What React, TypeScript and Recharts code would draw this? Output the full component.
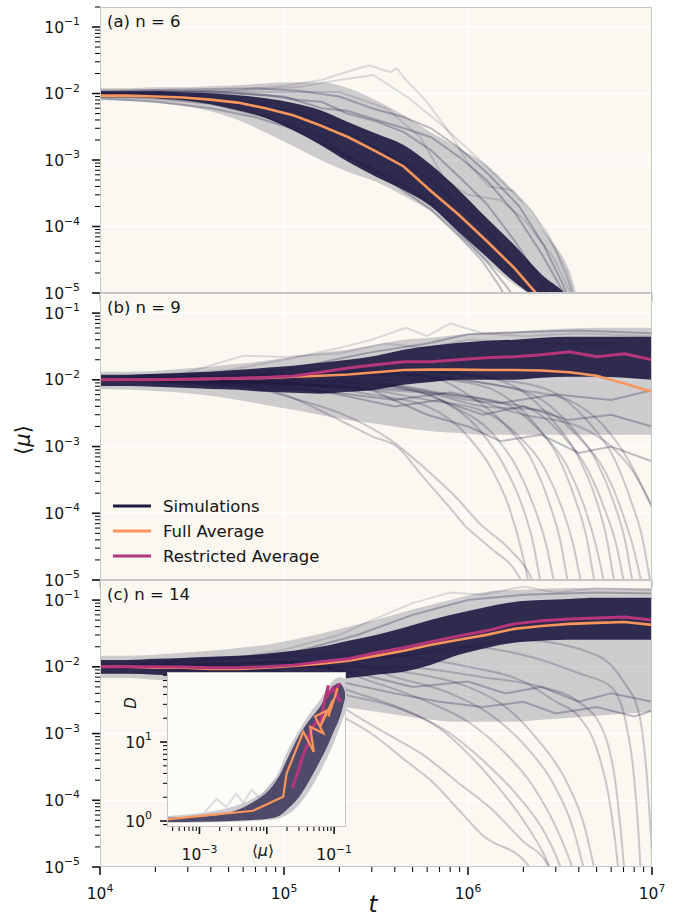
import React from 'react';
import { ComposedChart, Line, Area, XAxis, YAxis, CartesianGrid } from 'recharts';

const FONT = '"DejaVu Sans", Verdana, sans-serif';
const INK = '#141414';
const NAVY = '#1e1941';
const ORANGE = '#f8955b';
const MAGENTA = '#b5367a';
const CREAM = '#faf8f0';
const INSET_BG = '#fdfcf8';
const SPINE = '#c6c6c6';

// shared time grid for the bands and the averages
const T = [1e4, 1.41e4, 2e4, 2.82e4, 3.98e4, 5.62e4, 7.94e4, 1.12e5, 1.58e5, 2.24e5, 3.16e5,
  4.47e5, 6.31e5, 8.91e5, 1.26e6, 1.78e6, 2.51e6, 3.55e6, 5.01e6, 7.08e6, 1e7];

// ticks
const MANT = [1, 2, 3, 4, 5, 6, 7, 8, 9];
const X_MAJOR = [1e4, 1e5, 1e6, 1e7];
const Y_MAJOR = [1e-5, 1e-4, 1e-3, 1e-2, 1e-1];
const X_TICKS = [...[1e4, 1e5, 1e6].flatMap((d) => MANT.map((m) => m * d)), 1e7];
const Y_TICKS = [...[1e-5, 1e-4, 1e-3, 1e-2].flatMap((d) => MANT.map((m) => m * d)), 1e-1, 2e-1];
const INSET_X_TICKS = [4e-4, 5e-4, 6e-4, 7e-4, 8e-4, 9e-4, ...[1e-3, 1e-2].flatMap((d) => MANT.map((m) => m * d)), 1e-1];
const INSET_Y_TICKS = [0.9, 1, 2, 3, 4, 5, 6, 7, 8, 9, 10, 20, 30, 40, 50, 60, 70];
const INSET_X_LABELED = [1e-3, 1e-1];

// ---------- panel (a) n = 6 ----------
const A_FULL = [9.3e-3, 9.3e-3, 9.0e-3, 8.7e-3, 8.1e-3, 7.3e-3, 6.0e-3, 4.7e-3, 3.3e-3, 2.2e-3, 1.35e-3,
  8.0e-4, 3.4e-4, 1.5e-4, 6.1e-5, 2.4e-5, 8e-6, null, null, null, null];
const A_OUTER_HI = [1.2e-2, 1.2e-2, 1.24e-2, 1.24e-2, 1.29e-2, 1.33e-2, 1.43e-2, 1.48e-2, 1.48e-2, 1.2e-2, 7.9e-3,
  4.7e-3, 2.6e-3, 1.51e-3, 8.4e-4, 3.3e-4, 9.5e-5, 2.2e-5, 1e-6, 1e-6, 1e-6];
const A_OUTER_LO = [7.9e-3, 7.7e-3, 7.2e-3, 6.5e-3, 5.4e-3, 4.0e-3, 2.6e-3, 1.62e-3, 1.0e-3, 6.6e-4, 4.7e-4,
  2.9e-4, 1.66e-4, 7.2e-5, 2.95e-5, 1.35e-5, 8e-6, 6.8e-6, 1e-6, 1e-6, 1e-6];
const A_CORE_HI = [1.08e-2, 1.08e-2, 1.08e-2, 1.04e-2, 1.01e-2, 9.4e-3, 8.5e-3, 7.2e-3, 5.6e-3, 3.7e-3, 2.5e-3,
  1.68e-3, 8.4e-4, 3.55e-4, 1.35e-4, 5.3e-5, 1.9e-5, 8e-6, 1e-6, 1e-6, 1e-6];
const A_CORE_LO = [8.8e-3, 8.8e-3, 8.5e-3, 7.9e-3, 6.9e-3, 5.6e-3, 4.3e-3, 2.8e-3, 1.68e-3, 9.3e-4, 5.6e-4,
  3.55e-4, 2.0e-4, 8.3e-5, 3.5e-5, 1.48e-5, 8e-6, 6.8e-6, 1e-6, 1e-6, 1e-6];

const A_SIM_1 = [[1e4, 1.05e-2], [2e4, 1.1e-2], [4e4, 1.08e-2], [8e4, 9.5e-3], [1.2e5, 8e-3], [1.6e5, 7.5e-3], [2.2e5, 5e-3], [3.2e5, 3.8e-3], [4.5e5, 2.6e-3], [6.3e5, 1.4e-3], [9e5, 5.5e-4], [1.26e6, 2.2e-4], [1.8e6, 6e-5], [2.5e6, 1.5e-5], [2.8e6, 8e-6]];
const A_SIM_2 = [[1e4, 9e-3], [2e4, 8.4e-3], [4e4, 7e-3], [8e4, 4.4e-3], [1.2e5, 3e-3], [1.6e5, 2.2e-3], [2.2e5, 1.1e-3], [3.2e5, 7e-4], [4.5e5, 4.2e-4], [6.3e5, 2.2e-4], [9e5, 8e-5], [1.26e6, 3e-5], [1.6e6, 1.3e-5], [1.9e6, 7e-6]];
const A_SIM_3 = [[1e4, 1e-2], [2e4, 9.6e-3], [4e4, 8.8e-3], [8e4, 6.5e-3], [1.2e5, 5.2e-3], [1.6e5, 3.5e-3], [2.2e5, 2.6e-3], [3.2e5, 1.5e-3], [4.5e5, 9e-4], [6.3e5, 5e-4], [9e5, 2e-4], [1.26e6, 9e-5], [1.8e6, 2.5e-5], [2.3e6, 1e-5], [2.5e6, 7e-6]];
const A_SIM_4 = [[1e4, 1.02e-2], [3e4, 1.05e-2], [6e4, 9.8e-3], [1e5, 9e-3], [1.6e5, 6e-3], [2.2e5, 5.5e-3], [3.2e5, 4e-3], [4.5e5, 3e-3], [6.3e5, 2.2e-3], [9e5, 1.1e-3], [1.26e6, 5e-4], [1.8e6, 1.6e-4], [2.5e6, 4e-5], [3.2e6, 1.2e-5], [3.6e6, 7e-6]];
const A_SIM_5 = [[1e4, 8.5e-3], [2e4, 7.6e-3], [4e4, 6e-3], [7e4, 4.4e-3], [1.1e5, 3e-3], [1.6e5, 1.8e-3], [2.2e5, 1.15e-3], [3.2e5, 6.5e-4], [4.5e5, 3.4e-4], [6.3e5, 1.8e-4], [9e5, 7e-5], [1.2e6, 3e-5], [1.5e6, 1.2e-5], [1.7e6, 6e-6]];
const A_SIM_6 = [[1e4, 1.1e-2], [3e4, 1.15e-2], [7e4, 1.2e-2], [1.2e5, 1.1e-2], [2e5, 9e-3], [3e5, 6e-3], [4.5e5, 4.4e-3], [6.3e5, 3e-3], [9e5, 1.5e-3], [1.3e6, 6e-4], [1.9e6, 2e-4], [2.6e6, 5e-5], [3.3e6, 1.3e-5], [3.7e6, 6e-6]];
const A_OUT_1 = [[1e4, 1e-2], [5e4, 1.1e-2], [1e5, 1.3e-2], [1.6e5, 1.6e-2], [2.3e5, 2.2e-2], [2.9e5, 2.65e-2], [3.8e5, 2.1e-2], [4.1e5, 2.4e-2], [4.6e5, 1.6e-2], [5.9e5, 7.9e-3], [8e5, 2.5e-3], [1e6, 9e-4], [1.3e6, 4e-4], [1.76e6, 3.5e-4], [2.25e6, 1.6e-4], [3e6, 4.4e-5], [3.7e6, 1e-5], [4e6, 5e-6]];
const A_OUT_2 = [[1e4, 1e-2], [6e4, 1.1e-2], [1.2e5, 1.25e-2], [2e5, 1.6e-2], [3.05e5, 1.9e-2], [4.7e5, 8.8e-3], [7e5, 3.6e-3], [1.16e6, 1e-3], [1.63e6, 4e-4], [2.1e6, 2e-4], [2.7e6, 8e-5], [3.45e6, 2e-5], [3.9e6, 6e-6]];
const A_OUT_3 = [[1e4, 1e-2], [8e4, 1.05e-2], [2e5, 1.05e-2], [3.6e5, 6e-3], [5.5e5, 2.2e-3], [7.5e5, 5e-4], [1e6, 3e-4], [1.5e6, 2.5e-4], [2e6, 1.3e-4], [2.9e6, 3.5e-5], [3.6e6, 1e-5], [4.2e6, 5e-6]];

// ---------- panel (b) n = 9 ----------
const B_FULL = [1.0e-2, 1.0e-2, 1.0e-2, 1.02e-2, 1.03e-2, 1.05e-2, 1.07e-2, 1.11e-2, 1.15e-2, 1.2e-2, 1.3e-2,
  1.4e-2, 1.42e-2, 1.42e-2, 1.4e-2, 1.4e-2, 1.38e-2, 1.3e-2, 1.15e-2, 8.8e-3, 6.6e-3];
const B_RESTR = [1.0e-2, 1.0e-2, 1.0e-2, 1.02e-2, 1.04e-2, 1.06e-2, 1.08e-2, 1.14e-2, 1.3e-2, 1.5e-2, 1.68e-2,
  1.87e-2, 1.87e-2, 2.0e-2, 2.14e-2, 2.22e-2, 2.38e-2, 2.64e-2, 2.22e-2, 2.46e-2, 2.0e-2];
const B_OUTER_HI = [1.32e-2, 1.32e-2, 1.36e-2, 1.46e-2, 1.57e-2, 1.74e-2, 1.93e-2, 2.22e-2, 2.55e-2, 2.83e-2, 3.36e-2,
  4.0e-2, 4.28e-2, 4.75e-2, 5.09e-2, 5.27e-2, 5.65e-2, 5.85e-2, 6.05e-2, 6.05e-2, 6.05e-2];
const B_OUTER_LO = [7.3e-3, 7.1e-3, 6.8e-3, 6.4e-3, 5.75e-3, 5.0e-3, 4.2e-3, 3.55e-3, 2.98e-3, 2.5e-3, 2.2e-3,
  1.9e-3, 1.7e-3, 1.6e-3, 1.5e-3, 1.5e-3, 1.5e-3, 1.5e-3, 1.5e-3, 1.5e-3, 1.5e-3];
const B_CORE_HI = [1.19e-2, 1.19e-2, 1.23e-2, 1.27e-2, 1.32e-2, 1.41e-2, 1.51e-2, 1.62e-2, 1.8e-2, 2.0e-2, 2.3e-2,
  2.83e-2, 3.24e-2, 3.6e-2, 3.86e-2, 4.0e-2, 4.28e-2, 4.43e-2, 4.43e-2, 4.43e-2, 4.43e-2];
const B_CORE_LO = [8.1e-3, 8.1e-3, 7.85e-3, 7.6e-3, 7.3e-3, 7.1e-3, 6.6e-3, 6.4e-3, 6.2e-3, 6.6e-3, 7.1e-3,
  8.4e-3, 9.3e-3, 1.0e-2, 1.0e-2, 1.0e-2, 1.07e-2, 1.11e-2, 1.11e-2, 1.07e-2, 1.0e-2];

const B_FAN_1 = [[1e4, 1e-2], [5e4, 9e-3], [1e5, 6e-3], [2e5, 2.5e-3], [3.05e5, 1.4e-3], [4.1e5, 1e-3], [5.7e5, 3.5e-4], [8e5, 1.2e-4], [9.4e5, 7e-5], [1.33e6, 3e-5], [1.9e6, 1.1e-5], [2.1e6, 6e-6]];
const B_FAN_2 = [[1e4, 1e-2], [6e4, 8e-3], [1.2e5, 5e-3], [2e5, 3.2e-3], [3.8e5, 1.25e-3], [5.7e5, 5e-4], [8.5e5, 1.8e-4], [1.16e6, 7e-5], [1.7e6, 2.8e-5], [2.2e6, 1.1e-5], [2.4e6, 6e-6]];
const B_FAN_3 = [[1e4, 1e-2], [1e5, 9e-3], [3e5, 6e-3], [6e5, 4e-3], [9.8e5, 1.5e-3], [1.35e6, 4.5e-4], [1.66e6, 1.3e-4], [1.94e6, 3e-5], [2.09e6, 1.2e-5], [2.25e6, 5e-6]];
const B_FAN_4 = [[1e4, 1e-2], [1.5e5, 1.1e-2], [4e5, 8e-3], [7.1e5, 5e-3], [1.15e6, 1.8e-3], [1.58e6, 5e-4], [1.95e6, 1.4e-4], [2.28e6, 3.2e-5], [2.45e6, 1.1e-5], [2.65e6, 5e-6]];
const B_FAN_5 = [[1e4, 1e-2], [1.5e5, 9.5e-3], [5e5, 7e-3], [8.3e5, 4e-3], [1.35e6, 1.6e-3], [1.87e6, 4.5e-4], [2.3e6, 1.2e-4], [2.69e6, 3e-5], [2.9e6, 1.1e-5], [3.1e6, 5e-6]];
const B_FAN_6 = [[1e4, 1e-2], [2e5, 1.2e-2], [6e5, 1.1e-2], [1e6, 6e-3], [1.62e6, 2e-3], [2.24e6, 6e-4], [2.75e6, 1.5e-4], [3.2e6, 3.5e-5], [3.45e6, 1.1e-5], [3.67e6, 5e-6]];
const B_FAN_7 = [[1e4, 1e-2], [2e5, 8e-3], [6e5, 5e-3], [1.17e6, 3.5e-3], [1.9e6, 1.4e-3], [2.63e6, 4.5e-4], [3.24e6, 1.2e-4], [3.77e6, 3e-5], [4.06e6, 1.1e-5], [4.33e6, 5e-6]];
const B_FAN_8 = [[1e4, 1e-2], [3e5, 1.3e-2], [8e5, 1e-2], [1.38e6, 7e-3], [2.24e6, 2.4e-3], [3.09e6, 7e-4], [3.8e6, 1.7e-4], [4.44e6, 4e-5], [4.79e6, 1.2e-5], [5.1e6, 5e-6]];
const B_FAN_9 = [[1e4, 1e-2], [3e5, 9e-3], [8e5, 6e-3], [1.55e6, 4.5e-3], [2.51e6, 1.6e-3], [3.47e6, 5e-4], [4.27e6, 1.3e-4], [5e6, 3e-5], [5.42e6, 1.1e-5], [5.75e6, 5e-6]];
const B_FAN_10 = [[1e4, 1e-2], [4e5, 1.4e-2], [1e6, 1.2e-2], [1.78e6, 8e-3], [2.88e6, 2.5e-3], [3.98e6, 7e-4], [4.9e6, 1.8e-4], [5.69e6, 4e-5], [6.14e6, 1.2e-5], [6.53e6, 5e-6]];
const B_FAN_11 = [[1e4, 1e-2], [4e5, 8e-3], [1e6, 5e-3], [2e6, 4e-3], [3.24e6, 1.5e-3], [4.47e6, 4.5e-4], [5.5e6, 1.2e-4], [6.46e6, 3e-5], [6.95e6, 1.1e-5], [7.4e6, 5e-6]];
const B_FAN_12 = [[1e4, 1e-2], [5e5, 1.2e-2], [1.2e6, 9e-3], [2.24e6, 6e-3], [3.63e6, 2e-3], [5e6, 6e-4], [6.17e6, 1.5e-4], [7.2e6, 3.5e-5], [7.76e6, 1.1e-5], [8.26e6, 5e-6]];
const B_FAN_13 = [[1e4, 1e-2], [5e5, 7e-3], [1.2e6, 4e-3], [2.51e6, 3.5e-3], [4.07e6, 1.3e-3], [5.62e6, 4e-4], [6.92e6, 1e-4], [8.07e6, 2.5e-5], [8.71e6, 1e-5], [9.27e6, 5e-6]];
const B_FAN_14 = [[1e4, 1e-2], [6e5, 1.3e-2], [1.5e6, 1e-2], [2.75e6, 7e-3], [4.47e6, 2.4e-3], [6.17e6, 7e-4], [7.59e6, 1.7e-4], [8.9e6, 4e-5], [9.64e6, 1.2e-5], [1e7, 7e-6]];
const B_FAN_15 = [[1e4, 1e-2], [8e5, 1e-2], [2e6, 7e-3], [3.5e6, 5e-3], [5.5e6, 2e-3], [7.5e6, 6e-4], [1e7, 1.2e-4]];
const B_FAN_16 = [[1e4, 1e-2], [8e5, 6e-3], [2e6, 3e-3], [4e6, 2e-3], [6e6, 1e-3], [8e6, 4e-4], [1e7, 1.3e-4]];
const B_SIM_1 = [[1e4, 1e-2], [1e5, 8e-3], [2e5, 6e-3], [4e5, 4e-3], [7e5, 5e-3], [1.2e6, 3e-3], [2e6, 4e-3], [3.5e6, 2.5e-3], [6e6, 3e-3], [1e7, 2e-3]];
const B_SIM_2 = [[1e4, 1e-2], [1e5, 9e-3], [3e5, 7e-3], [6e5, 3e-3], [1e6, 2e-3], [1.5e6, 1.2e-3], [2.5e6, 1.5e-3], [4e6, 8e-4], [6e6, 1e-3], [1e7, 6e-4]];
const B_SIM_3 = [[1e4, 1e-2], [1.5e5, 7e-3], [4e5, 5e-3], [8e5, 6.5e-3], [1.5e6, 4.5e-3], [3e6, 6e-3], [6e6, 5e-3], [1e7, 7e-3]];
const B_SIM_4 = [[1e4, 1.1e-2], [1e5, 1.4e-2], [3e5, 2.6e-2], [6e5, 3.5e-2], [1e6, 4.8e-2], [2e6, 5.2e-2], [4e6, 5.5e-2], [1e7, 5e-2]];
const B_OUT_1 = [[1e4, 1e-2], [5e4, 1.4e-2], [1e5, 2e-2], [2e5, 3e-2], [3e5, 4e-2], [4.6e5, 6e-2], [6e5, 4.5e-2], [8e5, 7e-2], [1.2e6, 5e-2], [2e6, 4.5e-2], [4e6, 5e-2], [1e7, 4.5e-2]];
const B_OUT_2 = [[1e4, 1e-2], [3e4, 1.3e-2], [6e4, 2.3e-2], [1e5, 2.2e-2], [2e5, 2.5e-2], [3.5e5, 3.5e-2], [6e5, 3e-2], [1e6, 4e-2], [3e6, 3.5e-2], [1e7, 3e-2]];

// ---------- panel (c) n = 14 ----------
const C_FULL = [1.0e-2, 1.0e-2, 9.7e-3, 9.7e-3, 9.3e-3, 9.3e-3, 9.7e-3, 1.03e-2, 1.11e-2, 1.23e-2, 1.46e-2,
  1.74e-2, 2.14e-2, 2.54e-2, 3.01e-2, 3.7e-2, 4.1e-2, 4.4e-2, 4.56e-2, 4.7e-2, 4.25e-2];
const C_RESTR = [1.0e-2, 1.0e-2, 1.0e-2, 9.9e-3, 9.7e-3, 9.7e-3, 1.0e-2, 1.06e-2, 1.19e-2, 1.32e-2, 1.62e-2,
  1.93e-2, 2.37e-2, 2.9e-2, 3.46e-2, 4.4e-2, 4.9e-2, 5.2e-2, 5.4e-2, 5.6e-2, 5.05e-2];
const C_OUTER_HI = [1.46e-2, 1.46e-2, 1.51e-2, 1.62e-2, 1.74e-2, 1.92e-2, 2.13e-2, 2.54e-2, 3.12e-2, 3.97e-2, 5.06e-2,
  6.65e-2, 8.5e-2, 0.108, 0.133, 0.142, 0.147, 0.152, 0.152, 0.152, 0.152];
const C_OUTER_LO = [6.8e-3, 6.8e-3, 6.4e-3, 5.96e-3, 5.57e-3, 4.85e-3, 4.2e-3, 3.56e-3, 2.89e-3, 2.43e-3, 2.12e-3,
  1.85e-3, 1.61e-3, 1.5e-3, 1.5e-3, 1.5e-3, 1.61e-3, 1.72e-3, 1.85e-3, 1.98e-3, 2.12e-3];
const C_CORE_HI = [1.27e-2, 1.27e-2, 1.32e-2, 1.36e-2, 1.41e-2, 1.46e-2, 1.57e-2, 1.74e-2, 1.99e-2, 2.45e-2, 3.01e-2,
  3.84e-2, 5.06e-2, 6.4e-2, 7.9e-2, 9.4e-2, 0.1, 0.104, 0.108, 0.108, 0.108];
const C_CORE_LO = [7.85e-3, 7.85e-3, 7.6e-3, 7.3e-3, 7.1e-3, 6.8e-3, 6.6e-3, 6.4e-3, 6.4e-3, 6.8e-3, 7.6e-3,
  8.4e-3, 1.07e-2, 1.51e-2, 1.92e-2, 2.29e-2, 2.45e-2, 2.54e-2, 2.54e-2, 2.54e-2, 2.54e-2];

const C_FAN_1 = [[1e4, 1e-2], [5e4, 8e-3], [1e5, 5e-3], [2e5, 1.9e-3], [3.05e5, 9.6e-4], [4.65e5, 3.8e-4], [6.4e5, 1.9e-4], [8.7e5, 7.7e-5], [1.2e6, 3e-5], [2.1e6, 1.1e-5], [2.4e6, 6e-6]];
const C_FAN_2 = [[1e4, 1e-2], [8e4, 9e-3], [1.5e5, 5e-3], [2e5, 2.7e-3], [3.7e5, 9.6e-4], [5.7e5, 4.8e-4], [8.7e5, 1.9e-4], [1.32e6, 7.7e-5], [2e6, 2.4e-5], [2.7e6, 1.1e-5], [3e6, 5e-6]];
const C_FAN_3 = [[1e4, 1e-2], [1e5, 8e-3], [2.5e5, 4e-3], [5e5, 2e-3], [8e5, 1e-3], [1.2e6, 4e-4], [1.8e6, 1.3e-4], [2.5e6, 4e-5], [3e6, 1.5e-5], [3.4e6, 6e-6]];
const C_FAN_4 = [[1e4, 1e-2], [1.5e5, 1e-2], [3e5, 6e-3], [6e5, 3e-3], [1e6, 1.5e-3], [1.5e6, 6e-4], [2.2e6, 1.8e-4], [3e6, 4e-5], [3.6e6, 1.2e-5], [4e6, 5e-6]];
const C_FAN_5 = [[1e4, 1e-2], [2e5, 1.2e-2], [4e5, 7e-3], [8e5, 4e-3], [1.3e6, 2e-3], [2e6, 7e-4], [2.9e6, 1.8e-4], [3.7e6, 4e-5], [4.2e6, 1.1e-5], [4.5e6, 5e-6]];
const C_FAN_6 = [[1e4, 1e-2], [2e5, 1e-2], [5e5, 8e-3], [1e6, 5e-3], [1.6e6, 2.5e-3], [2.4e6, 8e-4], [3.4e6, 2e-4], [4.3e6, 4e-5], [4.8e6, 1.1e-5], [5.1e6, 5e-6]];
const C_FAN_7 = [[1e4, 1e-2], [3e5, 1.5e-2], [1e6, 1e-2], [2e6, 6e-3], [3e6, 3e-3], [4e6, 1.8e-3], [5e6, 6e-4], [5.8e6, 1.2e-4], [6.3e6, 2.5e-5], [6.6e6, 8e-6]];
const C_FAN_8 = [[1e4, 1e-2], [3e5, 1.3e-2], [1e6, 2e-2], [2e6, 1.5e-2], [4e6, 8e-3], [6e6, 5e-3], [7.2e6, 1.5e-3], [7.9e6, 3e-4], [8.4e6, 4e-5], [8.7e6, 8e-6]];
const C_FAN_9 = [[1e4, 1e-2], [5e5, 1.5e-2], [2e6, 2.5e-2], [5e6, 1.5e-2], [7e6, 6e-3], [8.5e6, 2e-3], [9.3e6, 3e-4], [9.8e6, 4e-5], [1e7, 1.5e-5]];
const C_FAN_10 = [[1e4, 1e-2], [4e5, 1e-2], [1.2e6, 7e-3], [2.5e6, 5e-3], [4e6, 3e-3], [5.5e6, 1e-3], [6.3e6, 2e-4], [6.8e6, 3e-5], [7.1e6, 8e-6]];
const C_FAN_11 = [[1e4, 1e-2], [1e5, 7e-3], [2e5, 4e-3], [4e5, 2.5e-3], [7e5, 1.2e-3], [1e6, 5e-4], [1.4e6, 1.8e-4], [2e6, 5e-5], [2.6e6, 1.5e-5], [3e6, 6e-6]];
const C_SIM_1 = [[1e4, 1e-2], [1e5, 1.2e-2], [2.5e5, 8e-3], [5e5, 5e-3], [1e6, 6e-3], [1.6e6, 4e-3], [2.5e6, 5e-3], [4e6, 3e-3], [6e6, 4e-3], [1e7, 3e-3]];
const C_SIM_2 = [[1e4, 1e-2], [8e4, 9e-3], [2e5, 6e-3], [4e5, 4e-3], [7e5, 3e-3], [1.2e6, 2.5e-3], [2e6, 3e-3], [3e6, 2e-3], [5e6, 2.5e-3], [8e6, 1.8e-3], [1e7, 2.2e-3]];
const C_SIM_3 = [[1e4, 1.1e-2], [1e5, 1.5e-2], [2.5e5, 3e-2], [5e5, 6e-2], [1e6, 0.1], [2e6, 0.12], [5e6, 0.13], [1e7, 0.125]];
const C_OUT_1 = [[1e4, 1e-2], [5e4, 1.3e-2], [1e5, 1.8e-2], [2e5, 3e-2], [3e5, 5e-2], [5e5, 9e-2], [8e5, 0.13], [1.2e6, 0.12], [2e6, 0.16], [3e6, 0.13], [5e6, 0.15], [1e7, 0.14]];

// ---------- inset: D against <mu> ----------
const INSET_MU = [3.3e-4, 1e-3, 3e-3, 6e-3, 1.1e-2, 1.5e-2, 2e-2, 3e-2, 4.5e-2, 6e-2, 8e-2, 1e-1, 1.2e-1, 1.5e-1];
const INSET_CORE_LO = [0.97, 0.98, 1.0, 1.03, 1.08, 1.15, 1.4, 2.0, 3.5, 5.5, 9, 14, 20, 40];
const INSET_CORE_HI = [1.1, 1.13, 1.3, 1.7, 2.5, 3.6, 6, 12, 20, 27, 40, 52, 56, 40];
const INSET_OUTER_LO = [0.95, 0.96, 0.98, 1.0, 1.03, 1.08, 1.2, 1.6, 2.6, 4.0, 6.5, 10, 15, 25];
const INSET_OUTER_HI = [1.15, 1.25, 1.5, 1.9, 2.8, 4.2, 7.5, 14, 24, 33, 48, 62, 66, 62];
const INSET_FULL = [[3.3e-4, 1.05], [6.25e-3, 1.35], [1.75e-2, 2.03], [1.97e-2, 4.0], [3.48e-2, 13.5], [5.0e-2, 7.5], [4.4e-2, 15.6], [6.9e-2, 12.9], [5.2e-2, 21], [7.8e-2, 25], [6.2e-2, 15.6], [9.6e-2, 34], [8.2e-2, 21], [0.113, 48]];
const INSET_RESTR = [[2.4e-2, 2.6], [2.9e-2, 4.2], [3.5e-2, 7], [3.1e-2, 5.5], [4.2e-2, 10], [4.6e-2, 14], [4.0e-2, 11], [5.5e-2, 19], [6.2e-2, 16], [7.0e-2, 30], [8.2e-2, 52], [7.6e-2, 36], [9.5e-2, 48], [1.1e-1, 38], [1.23e-1, 32], [1.05e-1, 45], [1.2e-1, 55]];
const INSET_GREY = [[1.2e-3, 1.3], [1.8e-3, 1.9], [2.5e-3, 1.5], [3.5e-3, 2.2], [4.5e-3, 1.7], [6e-3, 2.5], [8e-3, 1.9], [1.1e-2, 2.8], [1.5e-2, 3.5]];

const pts = (tr: number[][]) => tr.map(([t, v]) => ({ t, v }));
const ipts = (tr: number[][]) => tr.map(([mu, D]) => ({ mu, D }));

const buildRows = (full, restr, oLo, oHi, cLo, cHi) =>
  T.map((t, i) => ({
    t,
    outer: [oLo[i], oHi[i]],
    core: [cLo[i], cHi[i]],
    full: full[i],
    restricted: restr ? restr[i] : null,
  }));

const A_ROWS = buildRows(A_FULL, null, A_OUTER_LO, A_OUTER_HI, A_CORE_LO, A_CORE_HI);
const B_ROWS = buildRows(B_FULL, B_RESTR, B_OUTER_LO, B_OUTER_HI, B_CORE_LO, B_CORE_HI);
const C_ROWS = buildRows(C_FULL, C_RESTR, C_OUTER_LO, C_OUTER_HI, C_CORE_LO, C_CORE_HI);
const INSET_ROWS = INSET_MU.map((mu, i) => ({
  mu,
  outer: [INSET_OUTER_LO[i], INSET_OUTER_HI[i]],
  core: [INSET_CORE_LO[i], INSET_CORE_HI[i]],
}));

const isMajor = (v: number) => {
  const l = Math.log10(v);
  return Math.abs(l - Math.round(l)) < 1e-6;
};

function Pow({ x, y, v, anchor, size = 15.5 }: any) {
  const e = Math.round(Math.log10(v));
  return (
    <text x={x} y={y} textAnchor={anchor} fontFamily={FONT} fontSize={size} fill={INK}>
      10
      <tspan dy={-7.5} fontSize={size * 0.7}>{e < 0 ? `\u2212${-e}` : `${e}`}</tspan>
    </text>
  );
}

function YTick({ x, y, payload, gap = 20, long = 8, short = 5 }: any) {
  const major = isMajor(payload.value);
  return (
    <g>
      <line x1={x - (major ? long : short)} x2={x} y1={y} y2={y} stroke={INK} strokeWidth={major ? 1.6 : 1.1} />
      {major && <Pow x={x - gap} y={y + 5.5} v={payload.value} anchor="end" />}
    </g>
  );
}

function XTick({ x, y, payload, labels }: any) {
  const major = isMajor(payload.value);
  return (
    <g>
      <line x1={x} x2={x} y1={y} y2={y + (major ? 8 : 5)} stroke={INK} strokeWidth={major ? 1.6 : 1.1} />
      {labels && major && <Pow x={x} y={y + 32} v={payload.value} anchor="middle" />}
    </g>
  );
}

function simLines(list: number[][][], opacity: number, curve: string, key: string) {
  return list.map((tr, i) => (
    <Line
      key={key + i}
      data={pts(tr)}
      dataKey="v"
      type={curve as any}
      stroke={NAVY}
      strokeOpacity={opacity}
      strokeWidth={2}
      dot={false}
      activeDot={false}
      isAnimationActive={false}
    />
  ));
}

function Panel({ top, height, marginTop, axisHeight, labels, rows, dark, faint, fan, restricted }: any) {
  return (
    <div style={{ position: 'absolute', left: 0, top }}>
      <ComposedChart width={680} height={height} data={rows} margin={{ top: marginTop, right: 28, bottom: 0, left: 0 }}>
        <CartesianGrid
          fill={CREAM}
          fillOpacity={1}
          stroke="#ffffff"
          strokeWidth={1.5}
          horizontalValues={Y_MAJOR}
          verticalValues={X_MAJOR}
        />
        <XAxis
          dataKey="t"
          type="number"
          scale="log"
          domain={[1e4, 1e7]}
          allowDataOverflow
          ticks={X_TICKS}
          interval={0}
          height={axisHeight}
          axisLine={false}
          tickLine={false}
          tickSize={0}
          tickMargin={0}
          tick={<XTick labels={labels} />}
        />
        <YAxis
          type="number"
          scale="log"
          domain={[1e-5, 0.2]}
          allowDataOverflow
          ticks={Y_TICKS}
          interval={0}
          width={100}
          axisLine={false}
          tickLine={false}
          tickSize={0}
          tickMargin={0}
          tick={<YTick />}
        />
        <Area dataKey="outer" type="monotone" stroke="none" fill={NAVY} fillOpacity={0.2} isAnimationActive={false} activeDot={false} />
        <Area dataKey="core" type="monotone" stroke="none" fill={NAVY} fillOpacity={0.9} isAnimationActive={false} activeDot={false} />
        {simLines(faint, 0.14, 'linear', 'f')}
        {simLines(fan, 0.22, 'monotone', 'n')}
        {simLines(dark, 0.28, 'linear', 'd')}
        <Line dataKey="full" type="linear" stroke={ORANGE} strokeWidth={2.6} dot={false} activeDot={false} isAnimationActive={false} />
        {restricted && (
          <Line dataKey="restricted" type="linear" stroke={MAGENTA} strokeWidth={3} dot={false} activeDot={false} isAnimationActive={false} />
        )}
      </ComposedChart>
    </div>
  );
}

function InsetYTick({ x, y, payload }: any) {
  return <YTick x={x} y={y} payload={payload} gap={15} long={7} short={4} />;
}

function InsetXTick({ x, y, payload }: any) {
  const major = isMajor(payload.value);
  const show = INSET_X_LABELED.some((o) => Math.abs(o - payload.value) / o < 1e-6);
  return (
    <g>
      <line x1={x} x2={x} y1={y} y2={y + (major ? 7 : 4)} stroke={INK} strokeWidth={major ? 1.6 : 1.1} />
      {show && <Pow x={x} y={y + 33} v={payload.value} anchor="middle" />}
    </g>
  );
}

function Inset() {
  return (
    <div style={{ position: 'absolute', left: 60, top: 660 }}>
      <ComposedChart width={300} height={210} data={INSET_ROWS} margin={{ top: 12, right: 14, bottom: 0, left: 0 }}>
        <CartesianGrid fill={INSET_BG} fillOpacity={1} horizontal={false} vertical={false} />
        <XAxis
          dataKey="mu"
          type="number"
          scale="log"
          domain={[3.3e-4, 0.15]}
          allowDataOverflow
          ticks={INSET_X_TICKS}
          interval={0}
          height={43}
          axisLine={false}
          tickLine={false}
          tickSize={0}
          tickMargin={0}
          tick={<InsetXTick />}
        />
        <YAxis
          type="number"
          scale="log"
          domain={[0.84, 77]}
          allowDataOverflow
          ticks={INSET_Y_TICKS}
          interval={0}
          width={107}
          axisLine={false}
          tickLine={false}
          tickSize={0}
          tickMargin={0}
          tick={<InsetYTick />}
        />
        <Area dataKey="outer" type="monotone" stroke="none" fill={NAVY} fillOpacity={0.22} isAnimationActive={false} activeDot={false} />
        <Area dataKey="core" type="monotone" stroke="none" fill={NAVY} fillOpacity={0.72} isAnimationActive={false} activeDot={false} />
        <Line data={ipts(INSET_GREY)} dataKey="D" type="linear" stroke={NAVY} strokeOpacity={0.14} strokeWidth={2} dot={false} activeDot={false} isAnimationActive={false} />
        <Line data={ipts(INSET_RESTR)} dataKey="D" type="linear" stroke={MAGENTA} strokeWidth={3} dot={false} activeDot={false} isAnimationActive={false} />
        <Line data={ipts(INSET_FULL)} dataKey="D" type="linear" stroke={ORANGE} strokeWidth={2.2} dot={false} activeDot={false} isAnimationActive={false} />
      </ComposedChart>
    </div>
  );
}

const frame = (left: number, top: number, width: number, height: number) => (
  <div
    style={{
      position: 'absolute',
      left,
      top,
      width,
      height,
      boxSizing: 'border-box',
      border: `1px solid ${SPINE}`,
      pointerEvents: 'none',
    }}
  />
);

const LEGEND = [
  { label: 'Simulations', color: NAVY },
  { label: 'Full Average', color: ORANGE },
  { label: 'Restricted Average', color: MAGENTA },
];

export default function App() {
  return (
    <div style={{ position: 'absolute', left: 0, top: 0, width: 680, height: 917, background: '#ffffff', overflow: 'hidden' }}>
      <Panel
        top={0}
        height={301}
        marginTop={7}
        axisHeight={8}
        labels={false}
        rows={A_ROWS}
        dark={[A_SIM_1, A_SIM_2, A_SIM_3, A_SIM_4, A_SIM_5, A_SIM_6]}
        faint={[A_OUT_1, A_OUT_2, A_OUT_3]}
        fan={[]}
        restricted={false}
      />
      {frame(100, 7, 552, 286)}
      <Panel
        top={293}
        height={295}
        marginTop={0}
        axisHeight={8}
        labels={false}
        rows={B_ROWS}
        dark={[B_SIM_1, B_SIM_2, B_SIM_3, B_SIM_4]}
        faint={[B_OUT_1, B_OUT_2]}
        fan={[B_FAN_1, B_FAN_2, B_FAN_3, B_FAN_4, B_FAN_5, B_FAN_6, B_FAN_7, B_FAN_8, B_FAN_9, B_FAN_10, B_FAN_11, B_FAN_12, B_FAN_13, B_FAN_14, B_FAN_15, B_FAN_16]}
        restricted
      />
      {frame(100, 293, 552, 287)}
      <Panel
        top={580}
        height={337}
        marginTop={0}
        axisHeight={50}
        labels
        rows={C_ROWS}
        dark={[C_SIM_1, C_SIM_2, C_SIM_3]}
        faint={[C_OUT_1]}
        fan={[C_FAN_1, C_FAN_2, C_FAN_3, C_FAN_4, C_FAN_5, C_FAN_6, C_FAN_7, C_FAN_8, C_FAN_9, C_FAN_10, C_FAN_11]}
        restricted
      />
      {frame(100, 580, 552, 287)}
      <Inset />
      {frame(167, 672, 179, 155)}
      <svg
        width={680}
        height={917}
        style={{ position: 'absolute', left: 0, top: 0, pointerEvents: 'none' }}
        fontFamily={FONT}
      >
        <text x={107} y={26.5} fontSize={16.5} fill={INK}>(a) n = 6</text>
        <text x={107} y={313} fontSize={16.5} fill={INK}>(b) n = 9</text>
        <text x={107} y={600} fontSize={16.5} fill={INK}>(c) n = 14</text>
        {LEGEND.map((item, i) => (
          <g key={item.label}>
            <line x1={113} x2={151} y1={506 + i * 25} y2={506 + i * 25} stroke={item.color} strokeWidth={3} />
            <text x={163} y={512 + i * 25} fontSize={16.5} fill={INK}>{item.label}</text>
          </g>
        ))}
        <text transform="translate(30,440) rotate(-90)" textAnchor="middle" fontSize={21} fill={INK}>
          {'\u27e8'}<tspan fontStyle="italic">μ</tspan>{'\u27e9'}
        </text>
        <text x={373} y={912} textAnchor="middle" fontSize={23} fontStyle="italic" fill={INK}>t</text>
        <text transform="translate(136,703) rotate(-90)" textAnchor="middle" fontSize={15} fontStyle="italic" fill={INK}>D</text>
        <text x={263} y={856} textAnchor="middle" fontSize={15.5} fill={INK}>
          {'\u27e8'}<tspan fontStyle="italic">μ</tspan>{'\u27e9'}
        </text>
      </svg>
    </div>
  );
}
